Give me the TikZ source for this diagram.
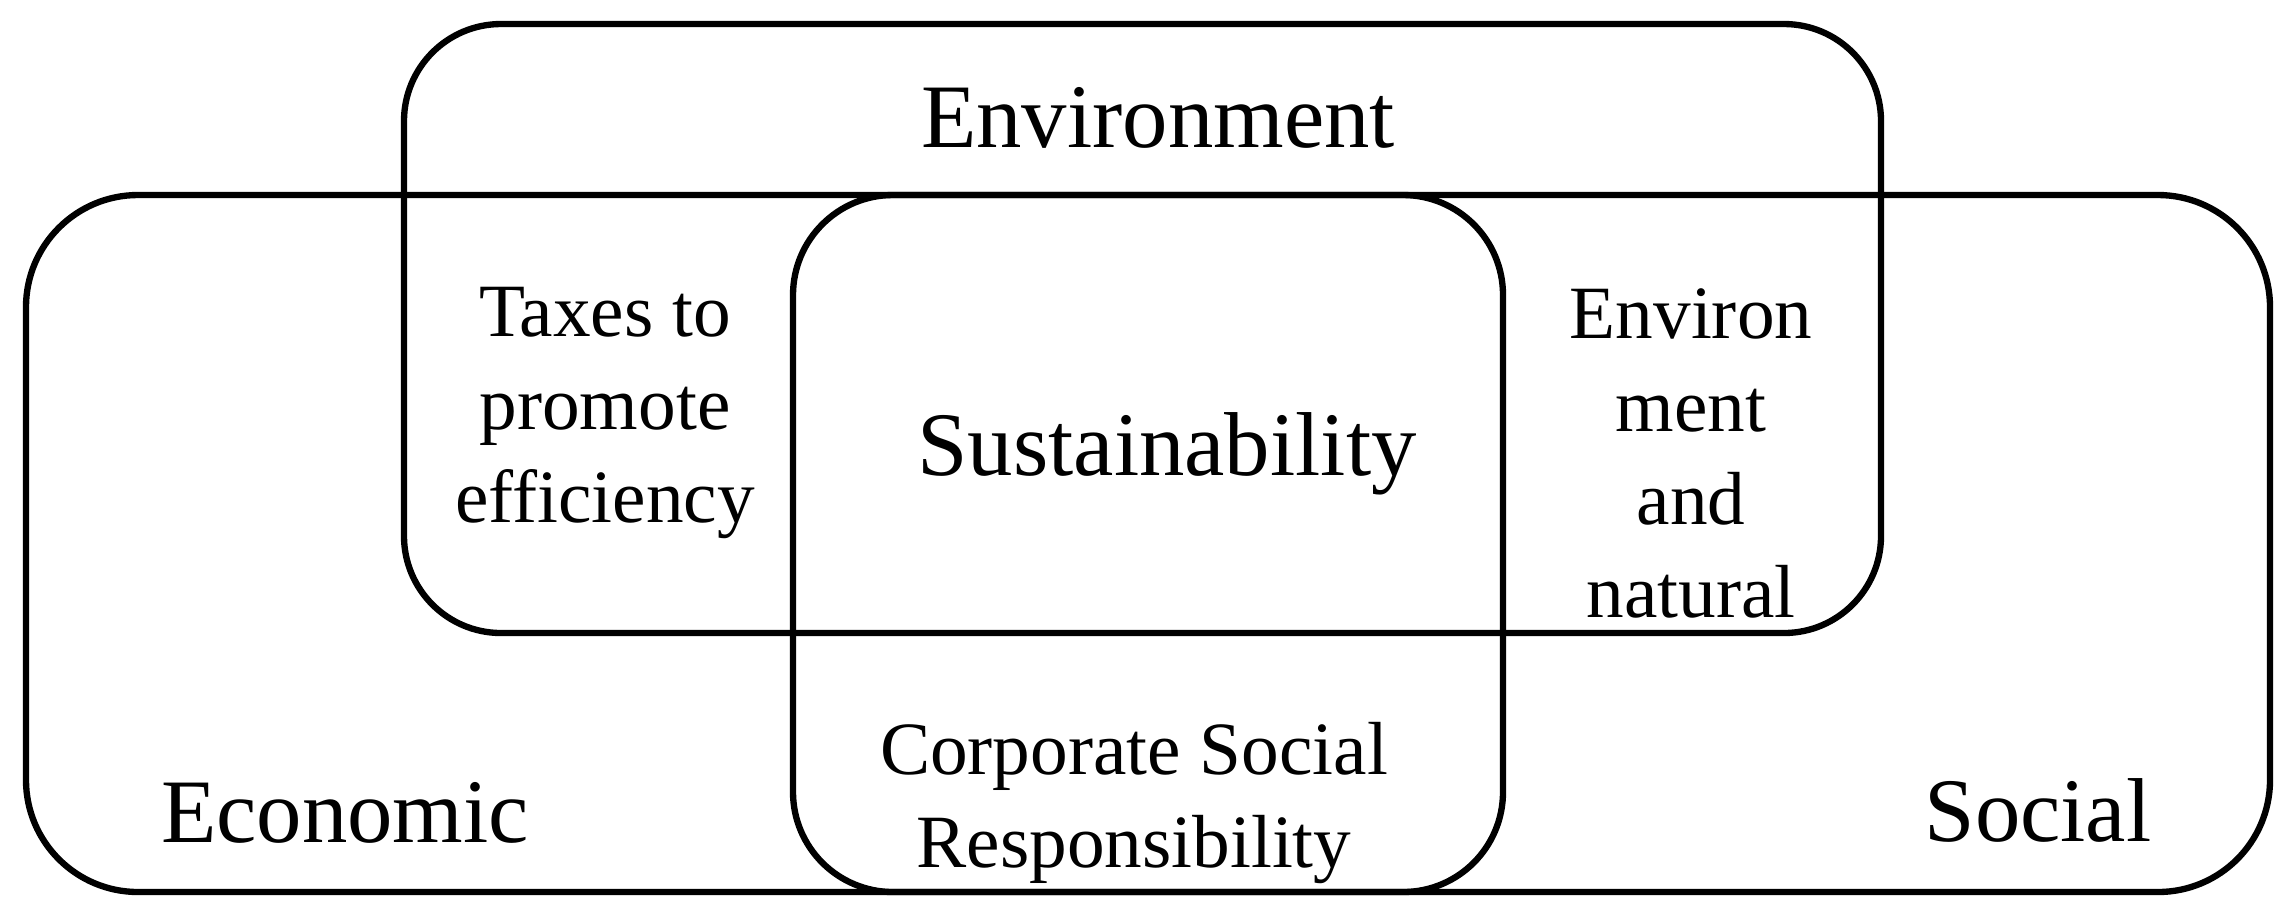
\documentclass[tikz,border=0pt]{standalone}
\usepackage{fontspec}
\setmainfont{Liberation Serif}
\tikzset{
  venn/.style={draw=black, line width=1.8pt},
  big/.style={font=\fontsize{25.8}{30}\selectfont, inner sep=0pt, anchor=base},
  small/.style={font=\fontsize{21.4}{26.4}\selectfont, inner sep=0pt, anchor=base, align=center}
}
\begin{document}
\begin{tikzpicture}[x=0.01cm,y=-0.01cm]
\useasboundingbox (0,0) rectangle (2294,917);
\fill[white] (0,0) rectangle (2294,917);
% boxes
\draw[venn, rounded corners=1.12cm] (26,195) rectangle (2270,892);
\draw[venn, rounded corners=0.97cm] (404,24) rectangle (1881,633);
\draw[venn, rounded corners=1.0cm] (793,195) rectangle (1503,892);
% labels
\node[big] (env) at (1158,147) {Environment};
\node[big] (sus) at (1167,475) {Sustainability};
\node[big] (eco) at (345,842) {Economic};
\node[big] (soc) at (2038,841) {Social};
\node[small] (tax) at (605,522) {Taxes to\\promote\\efficiency};
\node[small] (envnat) at (1691,617) {Environ\\ment\\and\\natural};
\node[small] (csr) at (1134,867) {Corporate Social\\Responsibility};
\end{tikzpicture}
\end{document}
